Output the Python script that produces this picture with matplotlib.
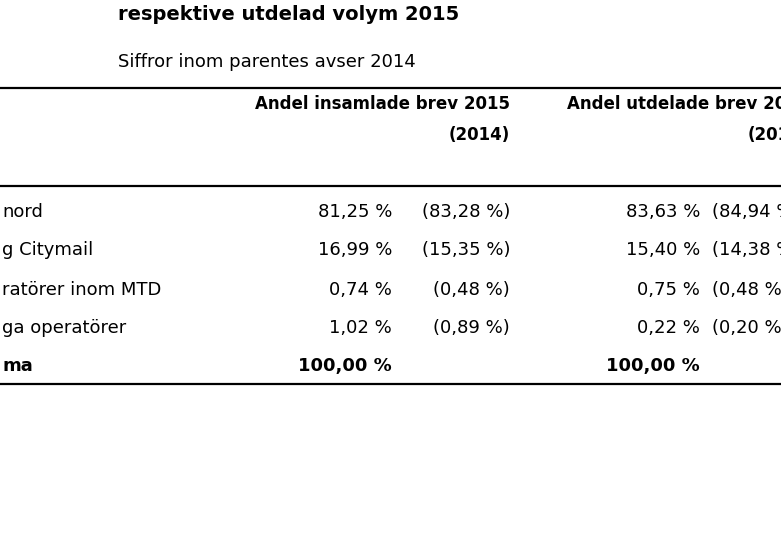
import matplotlib.pyplot as plt

plt.rcParams['font.family'] = ['DejaVu Sans']

title = "respektive utdelad volym 2015"
subtitle = "Siffror inom parentes avser 2014"
rows = ["nord", "g Citymail", "ratörer inom MTD", "ga operatörer", "ma"]
insamlade_2015 = ["81,25 %", "16,99 %", "0,74 %", "1,02 %", "100,00 %"]
insamlade_2014 = ["(83,28 %)", "(15,35 %)", "(0,48 %)", "(0,89 %)", ""]
utdelade_2015 = ["83,63 %", "15,40 %", "0,75 %", "0,22 %", "100,00 %"]
utdelade_2014 = ["(84,94 %)", "(14,38 %)", "(0,48 %)", "(0,20 %)", ""]

fig = plt.figure(figsize=(7.81, 5.44), dpi=100)
ax = fig.add_axes([0, 0, 1, 1])
ax.set_xlim(0, 781)
ax.set_ylim(544, 0)
ax.axis('off')

ax.text(118, 14, title, fontsize=14, fontweight='bold', va='center')
ax.text(118, 62, subtitle, fontsize=13, va='center')

for y in (88, 186, 384):
    ax.plot([0, 781], [y, y], color='black', lw=1.6)

ax.text(510, 104, "Andel insamlade brev 2015", fontsize=12, fontweight='bold', ha='right', va='center')
ax.text(510, 135, "(2014)", fontsize=12, fontweight='bold', ha='right', va='center')
ax.text(567, 104, "Andel utdelade brev 2015", fontsize=12, fontweight='bold', ha='left', va='center')
ax.text(748, 135, "(2014)", fontsize=12, fontweight='bold', ha='left', va='center')

ys = [212, 250, 290, 328, 366]
for i, y in enumerate(ys):
    bold = 'bold' if i == len(rows) - 1 else 'normal'
    ax.text(2, y, rows[i], fontsize=13, fontweight=bold, va='center')
    ax.text(392, y, insamlade_2015[i], fontsize=13, fontweight=bold, ha='right', va='center')
    ax.text(510, y, insamlade_2014[i], fontsize=13, ha='right', va='center')
    ax.text(700, y, utdelade_2015[i], fontsize=13, fontweight=bold, ha='right', va='center')
    ax.text(712, y, utdelade_2014[i], fontsize=13, ha='left', va='center')

fig.savefig('out.png', dpi=100)
